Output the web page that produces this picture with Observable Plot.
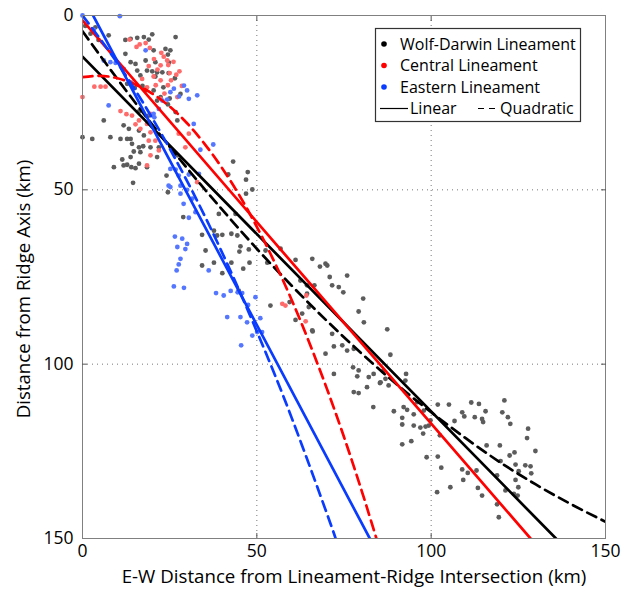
<!DOCTYPE html>
<html><head><meta charset="utf-8">
<script src="https://cdn.jsdelivr.net/npm/d3@7"></script>
<script src="https://cdn.jsdelivr.net/npm/@observablehq/plot@0.6"></script>
<style>
html,body{margin:0;padding:0;background:#fff;}
#wrap{position:relative;width:631px;height:592px;font-family:"Open Sans",sans-serif;}
#legend{position:absolute;left:0;top:0;pointer-events:none;}
</style></head><body><div id="wrap"></div>
<script>
// ---- tick values ----
const xTicks = [0, 50, 100, 150];
const yTicks = [0, 50, 100, 150];
const gridVals = [50, 100];

// ---- labels ----
const xLabel = "E-W Distance from Lineament-Ridge Intersection (km)";
const yLabel = "Distance from Ridge Axis (km)";
const seriesNames = ["Wolf-Darwin Lineament", "Central Lineament", "Eastern Lineament"];
const fitNames = ["Linear", "Quadratic"];

// ---- scatter data [x km, y km] ----
const wolfDarwin = [
 [0.8,3.0],[2.3,5.2],[3.7,3.4],[4.6,7.0],[7.5,5.7],[12.3,7.0],[13.8,6.7],[15.7,6.4],[17.6,6.2],[20.0,5.4],[19.0,6.9],[26.7,6.2],
 [12.3,11.0],[13.8,13.4],[15.2,13.9],[18.1,12.9],[20.4,10.0],[20.9,13.4],[23.8,9.6],[24.5,11.2],[25.2,10.0],[24.8,13.5],
 [15.7,15.8],[16.6,17.2],[18.5,15.8],[20.0,16.0],[21.4,16.3],[22.9,16.3],[20.9,17.5],[24.7,16.5],[26.5,18.0],
 [12.8,19.6],[15.0,20.8],[17.2,20.2],[20.4,21.5],[23.2,20.6],[18.1,21.5],[22.4,23.4],[21.4,24.4],[25.0,23.8],[28.1,22.5],[24.5,25.5],
 [26.7,27.7],[27.2,30.1],[19.0,28.7],[16.2,27.5],[11.8,31.5],[13.3,32.5],[16.2,33.0],[17.6,34.4],[10.9,35.4],[12.8,35.4],[13.8,35.4],
 [14.2,36.8],[16.2,37.8],[17.4,37.5],[19.5,37.8],[21.9,37.8],[14.7,39.0],[16.6,39.2],[13.8,40.6],[11.4,41.3],[21.4,40.6],[9.0,43.5],
 [11.8,43.0],[12.8,42.8],[14.0,43.5],[15.2,43.8],[16.2,42.5],[18.5,43.5],[14.5,48.0],[27.2,40.1],[24.1,45.9],[24.5,50.7],[28.9,57.8],
 [0,34.9],[2.8,35.4],[6.1,30.1],[8.0,34.9],
 [43.2,41.9],[47.4,44.9],[41.8,45.6],[46.9,47.1],[48.7,49.9],[46.9,51.1],[39.1,56.9],[43.9,56.9],[34.3,62.9],[38.6,63.1],[40.1,62.9],
 [42.7,62.6],[44.4,63.1],[37.7,61.7],[35.3,67.4],[45.3,66.2],[45.0,67.7],[47.7,67.1],[52.5,67.4],[56.8,66.9],[37.7,70.9],[42.7,70.9],
 [47.9,70.9],[53.0,70.9],[61.1,70.1],[65.9,69.8],[69.7,71.2],[34.3,71.7],[40.1,73.9],[46.1,72.6],[44.8,78.9],[53.9,83.2],[59.4,82.2],
 [61.1,87.3],[63.0,85.5],[62.5,76.0],[64.4,77.4],[66.5,77.4],[64.4,79.8],[64.9,83.6],[66.0,90.6],[68.1,72.0],[70.2,71.7],[70.9,75.0],
 [71.6,77.4],[73.5,77.9],[74.8,79.4],[75.9,74.6],[69.7,97.0],[72.1,94.9],[74.5,94.6],[75.9,96.1],[77.8,95.6],[72.1,102.8],[77.6,100.9],
 [79.2,84.9],[80.5,81.2],[80.7,88.0],[79.2,101.8],[78.8,103.5],[82.1,103.7],[83.5,102.8],[86.9,104.2],[85.3,105.4],[87.4,90.0],
 [88.3,97.3],[92.8,102.8],[92.6,104.7],[71.6,91.3],[65.9,90.3],[81.6,106.6],[77.8,108.0],[79.2,108.3],[83.4,112.3],[85.5,105.2],
 [86.2,102.0],[87.8,106.1],[89.3,113.5],[92.1,112.3],[93.1,113.1],[91.7,115.4],[91.7,117.3],[95.0,114.4],[95.0,117.6],[96.0,110.9],
 [96.9,118.2],[97.9,113.3],[97.7,119.9],[98.4,117.9],[99.3,117.6],[99.8,116.1],[101.9,111.6],[102.5,120.4],[105.1,111.6],[106.7,116.3],
 [108.9,113.8],[109.5,115.0],[111.5,111.0],[113.7,111.4],[112.5,115.2],[114.6,115.7],[114.9,116.6],[115.6,113.5],[121.0,110.4],
 [120.4,113.8],[122.0,115.2],[122.7,117.1],[127.8,118.5],[127.5,121.2],[129.9,124.9],[98.7,126.7],[101.9,126.5],[94.3,122.1],
 [91.7,123.0],[102.9,129.7],[105.5,135.3],[101.7,136.7],[108.9,130.2],[109.2,133.2],[110.5,131.2],[113.0,130.5],[113.4,135.5],
 [114.6,137.7],[115.9,123.3],[119.7,123.3],[119.9,127.8],[118.9,131.9],[121.3,136.2],[122.5,126.2],[123.9,125.3],[124.2,128.8],
 [125.1,130.7],[124.2,133.2],[125.0,135.3],[124.8,137.7],[123.7,137.2],[127.0,129.0],[128.5,129.3],[128.7,131.3],[118.9,140.2],[119.4,143.9]
];
const central = [
 [0,23.4],[3.4,20.4],[5.2,20.4],[6.6,20.4],[13.5,6.9],[16.4,8.3],[18.1,7.9],[19.3,9.3],[22.6,10.7],[23.3,11.8],[24.3,12.9],[22.4,14.3],
 [24.6,14.2],[26.1,13.3],[26.9,17.0],[25.4,18.6],[22.4,18.6],[20.4,17.5],[17.1,18.2],[14.0,19.2],[18.5,20.6],[23.5,22.4],[22.4,23.9],
 [27.2,23.4],[10.9,27.4],[12.6,28.3],[14.2,28.7],[16.2,30.1],[15.2,31.2],[18.5,31.1],[16.6,32.5],[19.5,33.5],[19.0,35.9],[20.9,35.9],
 [21.9,38.7],[19.5,40.1],[18.5,43.0],[27.6,33.9],[30.5,33.9],[29.5,37.8],[32.9,47.8],[19.5,28.2],[57.3,82.7],[58.2,83.2],[64.0,87.7],
 [64.2,80.3],[20.5,12.5],[21.5,15.5],[27.8,16.0],[25.0,16.5],[28.5,20.2],[19.0,14.5],[15.5,9.0],[21.0,20.0],[24.5,20.0]
];
const eastern = [
 [0,0],[10.7,0.2],[3.2,4.1],[6.1,12.9],[8.0,13.4],[9.5,13.6],[11.8,15.3],[18.1,10.0],[29.1,20.1],[30.0,21.5],[26.2,21.0],[25.2,22.0],
 [32.9,22.9],[27.7,23.2],[24.3,24.1],[22.9,24.4],[30.5,23.9],[7.5,25.8],[21.9,26.8],[20.4,28.2],[20.6,29.2],[31.9,31.1],[37.5,37.0],
 [33.8,38.5],[25.2,44.0],[26.7,44.2],[27.6,45.9],[30.5,45.6],[33.4,45.4],[24.7,48.8],[28.1,48.8],[25.2,49.2],[28.1,51.1],[30.0,50.0],
 [31.5,52.5],[29.0,54.0],[32.4,56.4],[30.5,58.0],[26.5,63.4],[28.6,64.0],[30.0,65.5],[27.2,66.4],[29.5,67.0],[28.1,69.8],[27.6,71.4],
 [27.0,73.1],[36.2,73.1],[26.2,77.7],[29.1,78.1],[38.3,79.6],[40.5,80.3],[42.5,79.0],[44.5,79.4],[45.8,79.6],[49.6,80.8],[41.5,86.5],
 [45.3,86.5],[47.2,88.0],[51.0,86.8],[48.7,91.8],[50.1,90.8],[51.5,90.8],[45.5,94.6],[47.5,83.0]
];

// ---- fitted lines, points [x km, y km] ----
const wolfDarwinLinear = [[0,11.8],[135.8,150]];
const centralLinear = [[0,1.4],[128.5,150]];
const easternLinear = [[3.05,0],[82.4,150]];
const wolfDarwinQuad = [[0,4.5],[10,18.2],[20,31.3],[30,43.8],[40,55.6],[50,66.9],[60,77.5],[70,87.5],[80,96.9],[90,105.7],[100,113.8],[110,121.3],[120,128.3],[130,134.5],[140,140.1],[150,145.2]];
const centralQuad = [[0,17.7],[5,17.3],[10,18.0],[15,19.7],[20,22.4],[25,26.1],[30,30.9],[35,36.8],[40,43.7],[45,51.6],[50,60.6],[55,70.6],[60,81.6],[65,93.7],[70,106.8],[75,120.9],[80,136.1],[84.3,150]];
const easternQuad = [[0,0],[10,13.6],[20,29.4],[30,47.5],[40,67.9],[50,90.6],[60,115.4],[70,142.6],[72.6,150]];

const colors = {wd: "#000000", c: "#ff0000", e: "#0a3cff"};
const dotColors = {wd: "#5c5c5c", c: "#ff6a6a", e: "#5577ff"};

const P = a => a.map(([x, y]) => ({x, y}));
const lineOpts = (c, dashed) => ({x: "x", y: "y", stroke: c, strokeWidth: 2.7, clip: true, curve: dashed ? "natural" : "linear", strokeDasharray: dashed ? "10,6" : null});

const chart = Plot.plot({
  width: 631, height: 592,
  marginLeft: 82, marginRight: 26, marginTop: 15, marginBottom: 54,
  x: {domain: [0, 150]},
  y: {domain: [0, 150], reverse: true},
  style: {fontFamily: "'Open Sans', sans-serif", background: "#fff", color: "#000"},
  marks: [
    Plot.gridX(gridVals, {stroke: "#777", strokeOpacity: 1, strokeDasharray: "1,4"}),
    Plot.gridY(gridVals, {stroke: "#777", strokeOpacity: 1, strokeDasharray: "1,4"}),
    Plot.dot(P(wolfDarwin), {x: "x", y: "y", r: 2.4, fill: dotColors.wd}),
    Plot.dot(P(central), {x: "x", y: "y", r: 2.4, fill: dotColors.c}),
    Plot.dot(P(eastern), {x: "x", y: "y", r: 2.4, fill: dotColors.e}),
    Plot.line(P(wolfDarwinLinear), lineOpts(colors.wd, false)),
    Plot.line(P(wolfDarwinQuad), lineOpts(colors.wd, true)),
    Plot.line(P(centralLinear), lineOpts(colors.c, false)),
    Plot.line(P(centralQuad), lineOpts(colors.c, true)),
    Plot.line(P(easternLinear), lineOpts(colors.e, false)),
    Plot.line(P(easternQuad), lineOpts(colors.e, true)),
    Plot.frame({stroke: "#808080"}),
    Plot.axisX(xTicks, {anchor: "bottom", tickSize: 0, tickPadding: 6, fontSize: 17.5, label: null}),
    Plot.axisY(yTicks, {anchor: "left", tickSize: 0, tickPadding: 9, fontSize: 17.5, label: null}),
    Plot.axisX(gridVals, {anchor: "bottom", tickSize: -5, tickFormat: () => "", label: null, stroke: "#555"}),
    Plot.axisX(gridVals, {anchor: "top", tickSize: -5, tickFormat: () => "", label: null, stroke: "#555"}),
    Plot.axisY(gridVals, {anchor: "left", tickSize: -5, tickFormat: () => "", label: null, stroke: "#555"}),
    Plot.axisY(gridVals, {anchor: "right", tickSize: -5, tickFormat: () => "", label: null, stroke: "#555"}),
    Plot.text([xLabel], {frameAnchor: "bottom", textAnchor: "middle", dy: 44, dx: 10, fontSize: 18.7}),
    Plot.text([yLabel], {frameAnchor: "left", textAnchor: "middle", rotate: -90, dx: -58, dy: 12, fontSize: 18.7})
  ]
});
const wrap = document.getElementById("wrap");
wrap.appendChild(chart);

// ---- legend ----
const lg = d3.select(wrap).append("svg").attr("id", "legend").attr("width", 631).attr("height", 592);
lg.append("rect").attr("x", 375.5).attr("y", 28.5).attr("width", 205).attr("height", 93)
  .attr("fill", "#fff").attr("stroke", "#333").attr("stroke-width", 1.2);
const rowY = [44, 65.5, 87];
const legColors = [colors.wd, colors.c, colors.e];
seriesNames.forEach((n, i) => {
  lg.append("circle").attr("cx", 384).attr("cy", rowY[i]).attr("r", 2.8).attr("fill", legColors[i]);
  lg.append("text").attr("x", 400).attr("y", rowY[i]).attr("dy", "0.35em")
    .attr("font-family", "'Open Sans', sans-serif").attr("font-size", 16).text(n);
});
lg.append("line").attr("x1", 380).attr("x2", 408).attr("y1", 108.5).attr("y2", 108.5).attr("stroke", "#000").attr("stroke-width", 1.2);
lg.append("text").attr("x", 410).attr("y", 108.5).attr("dy", "0.35em").attr("font-family", "'Open Sans', sans-serif").attr("font-size", 16).text(fitNames[0]);
lg.append("line").attr("x1", 478).attr("x2", 498).attr("y1", 108.5).attr("y2", 108.5).attr("stroke", "#000").attr("stroke-width", 1.2).attr("stroke-dasharray", "6,5");
lg.append("text").attr("x", 500).attr("y", 108.5).attr("dy", "0.35em").attr("font-family", "'Open Sans', sans-serif").attr("font-size", 16).text(fitNames[1]);
</script></body></html>
